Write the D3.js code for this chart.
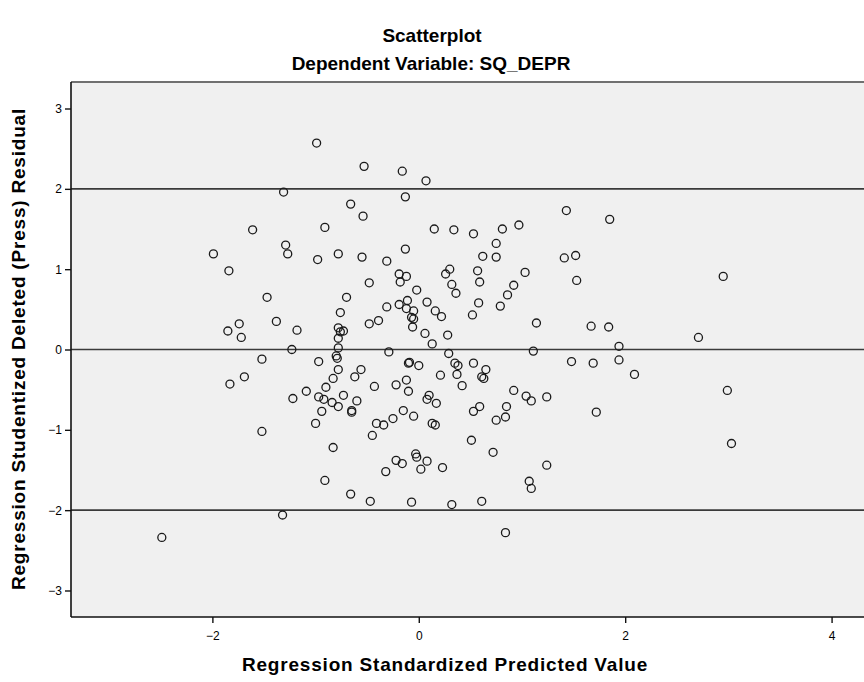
<!DOCTYPE html>
<html>
<head>
<meta charset="utf-8">
<script src="https://cdn.jsdelivr.net/npm/d3@7"></script>
<style>
  html, body { margin: 0; padding: 0; background: #ffffff; }
  svg { display: block; }
  text { font-family: "Liberation Sans", Arial, sans-serif; fill: #000; }
</style>
</head>
<body>
<svg id="chart" width="864" height="682"></svg>
<script>
// Regression Standardized Predicted Value (x) for each case
const predicted = [
  -1.61, -1.99, -1.84, -1.47, -1.74, -1.85, -1.72, -1.52, -1.69, -1.83, -1.52, -2.49,
  -0.99, -0.53, -0.16, 0.07, -1.31, -0.66, -0.13, -0.54, -0.91, 0.15, 0.34, -1.29,
  -1.27, -0.98, -0.78, -0.55, -0.31, -0.13,
  -0.19, -0.12, -0.18, 0.30, 0.26, 0.32, 0.36, -0.48, -0.02, -0.70, -0.11, -0.19,
  0.08, -0.12, -0.31, -0.05, 0.16, 0.22, -0.07, -0.05, -0.76, -1.38, -0.39, -0.48,
  -0.06, -1.18, -0.78, -0.73, -0.76, -0.78, 0.06, 0.28, 0.13, -1.23, -0.78, -0.29,
  0.29, -0.80, -0.79, -0.97, -0.09, -0.10, 0.00, 0.35, 0.38, -0.56, -0.78, 0.37,
  0.21, -0.83, -0.62, -0.12, 0.42, -0.90, -0.43, -0.22, -0.10, -1.09, -0.97, -0.92,
  -0.73, -0.84, -1.22, 0.10, 0.08, 0.17, -0.60, -0.78, -0.94, -0.65, -0.65, -0.15,
  -0.05, -0.25, -1.00, -0.41, -0.34, 0.13, 0.16, -0.45,
  -0.83, -0.03, -0.02, -0.22, -0.16, 0.08, 0.02, 0.23, -0.32, -0.91, -0.66, -0.47,
  -0.07, 0.32, -1.32,
  1.43, 1.85, 0.53, 0.81, 0.97, 0.75, 0.62, 0.75, 1.41, 1.52, 0.57, 0.59,
  1.03, 0.92, 1.53, 0.86, 0.58, 0.79, 0.52, 1.14, 1.67, 1.84, 1.94, 1.11,
  1.48, 1.69, 1.94, 2.09, 0.53, 0.65, 0.61, 0.63, 0.92, 1.04, 1.09, 1.24,
  0.59, 0.53, 0.85, 0.84, 0.75, 1.72, 0.51,
  0.72, 1.24, 1.07, 1.09, 0.61, 0.84,
  2.95, 2.71, 2.99, 3.03
];

// Regression Studentized Deleted (Press) Residual (y) for each case
const residual = [
  1.49, 1.19, 0.98, 0.65, 0.32, 0.23, 0.15, -0.12, -0.34, -0.43, -1.02, -2.34,
  2.57, 2.28, 2.22, 2.10, 1.96, 1.81, 1.90, 1.66, 1.52, 1.50, 1.49, 1.30,
  1.19, 1.12, 1.19, 1.15, 1.10, 1.25,
  0.94, 0.91, 0.84, 1.00, 0.94, 0.81, 0.70, 0.83, 0.74, 0.65, 0.61, 0.56,
  0.59, 0.51, 0.53, 0.48, 0.48, 0.41, 0.40, 0.38, 0.46, 0.35, 0.36, 0.32,
  0.28, 0.24, 0.27, 0.23, 0.22, 0.14, 0.20, 0.18, 0.07, 0.00, 0.02, -0.03,
  -0.05, -0.08, -0.11, -0.15, -0.16, -0.17, -0.20, -0.17, -0.20, -0.25, -0.25, -0.31,
  -0.32, -0.36, -0.34, -0.38, -0.45, -0.47, -0.46, -0.44, -0.52, -0.52, -0.59, -0.62,
  -0.57, -0.66, -0.61, -0.57, -0.62, -0.67, -0.64, -0.71, -0.77, -0.76, -0.78, -0.76,
  -0.83, -0.86, -0.92, -0.92, -0.94, -0.92, -0.94, -1.07,
  -1.22, -1.30, -1.34, -1.38, -1.42, -1.39, -1.49, -1.47, -1.52, -1.63, -1.80, -1.89,
  -1.90, -1.93, -2.06,
  1.73, 1.62, 1.44, 1.50, 1.55, 1.32, 1.16, 1.15, 1.14, 1.17, 0.98, 0.84,
  0.96, 0.80, 0.86, 0.68, 0.58, 0.54, 0.43, 0.33, 0.29, 0.28, 0.04, -0.02,
  -0.15, -0.17, -0.13, -0.31, -0.17, -0.25, -0.34, -0.36, -0.51, -0.58, -0.64, -0.59,
  -0.71, -0.77, -0.71, -0.84, -0.88, -0.78, -1.13,
  -1.28, -1.44, -1.64, -1.73, -1.89, -2.28,
  0.91, 0.15, -0.51, -1.17
];

const xTicks = [-2, 0, 2, 4];
const yTicks = [-3, -2, -1, 0, 1, 2, 3];
const refLines = [-2, 0, 2];

const points = predicted.map((x, i) => ({ x, y: residual[i] }));

const svg = d3.select("#chart");

const x = d3.scaleLinear().domain([-3.37, 4.6]).range([71, 71 + 7.97 * 103.2]);
const y = d3.scaleLinear().domain([-3.33, 3.33]).range([617, 82]);

const [x0, x1] = x.range();
const [yb, yt] = y.range();

// plot background
svg.append("rect")
  .attr("x", x0).attr("y", yt)
  .attr("width", x1 - x0).attr("height", yb - yt)
  .attr("fill", "#f0f0f0");

// horizontal reference lines
svg.append("g").selectAll("line").data(refLines).join("line")
  .attr("x1", x0).attr("x2", x1)
  .attr("y1", d => y(d)).attr("y2", d => y(d))
  .attr("stroke", "#3a3a3a").attr("stroke-width", 1.6);

// points
svg.append("g").selectAll("circle").data(points).join("circle")
  .attr("cx", d => x(d.x)).attr("cy", d => y(d.y))
  .attr("r", 4)
  .attr("fill", "none")
  .attr("stroke", "#1a1a1a")
  .attr("stroke-width", 1.3);

// frame
svg.append("line").attr("x1", x0).attr("x2", x1).attr("y1", yt).attr("y2", yt)
  .attr("stroke", "#707070").attr("stroke-width", 2);
svg.append("line").attr("x1", x0).attr("x2", x0).attr("y1", yt).attr("y2", yb)
  .attr("stroke", "#111").attr("stroke-width", 1.6);
svg.append("line").attr("x1", x0).attr("x2", x1).attr("y1", yb).attr("y2", yb)
  .attr("stroke", "#111").attr("stroke-width", 1.6);

// axes
const xAxis = d3.axisBottom(x).tickValues(xTicks).tickSize(6).tickPadding(8)
  .tickFormat(d3.format("d"));
const gx = svg.append("g").attr("transform", `translate(0,${yb})`).call(xAxis);
gx.select(".domain").remove();
gx.selectAll(".tick line").attr("stroke", "#111").attr("stroke-width", 1.4);
gx.selectAll(".tick text").attr("font-size", 12).attr("font-family", "Liberation Sans, Arial, sans-serif").attr("fill", "#000");

const yAxis = d3.axisLeft(y).tickValues(yTicks).tickSize(6).tickPadding(3)
  .tickFormat(d3.format("d"));
const gy = svg.append("g").attr("transform", `translate(${x0},0)`).call(yAxis);
gy.select(".domain").remove();
gy.selectAll(".tick line").attr("stroke", "#111").attr("stroke-width", 1.4);
gy.selectAll(".tick text").attr("font-size", 12).attr("font-family", "Liberation Sans, Arial, sans-serif").attr("fill", "#000");

// titles
svg.append("text").attr("x", 432).attr("y", 42)
  .attr("text-anchor", "middle").attr("font-size", 19).attr("font-weight", "bold")
  .text("Scatterplot");
svg.append("text").attr("x", 431).attr("y", 70)
  .attr("text-anchor", "middle").attr("font-size", 19).attr("font-weight", "bold")
  .text("Dependent Variable: SQ_DEPR");

// axis titles
svg.append("text").attr("x", 445).attr("y", 671)
  .attr("text-anchor", "middle").attr("font-size", 19).attr("font-weight", "bold")
  .attr("letter-spacing", 0.8)
  .text("Regression Standardized Predicted Value");
svg.append("text")
  .attr("transform", "translate(25,349) rotate(-90)")
  .attr("text-anchor", "middle").attr("font-size", 19).attr("font-weight", "bold")
  .attr("letter-spacing", 0.8)
  .text("Regression Studentized Deleted (Press) Residual");
</script>
</body>
</html>
